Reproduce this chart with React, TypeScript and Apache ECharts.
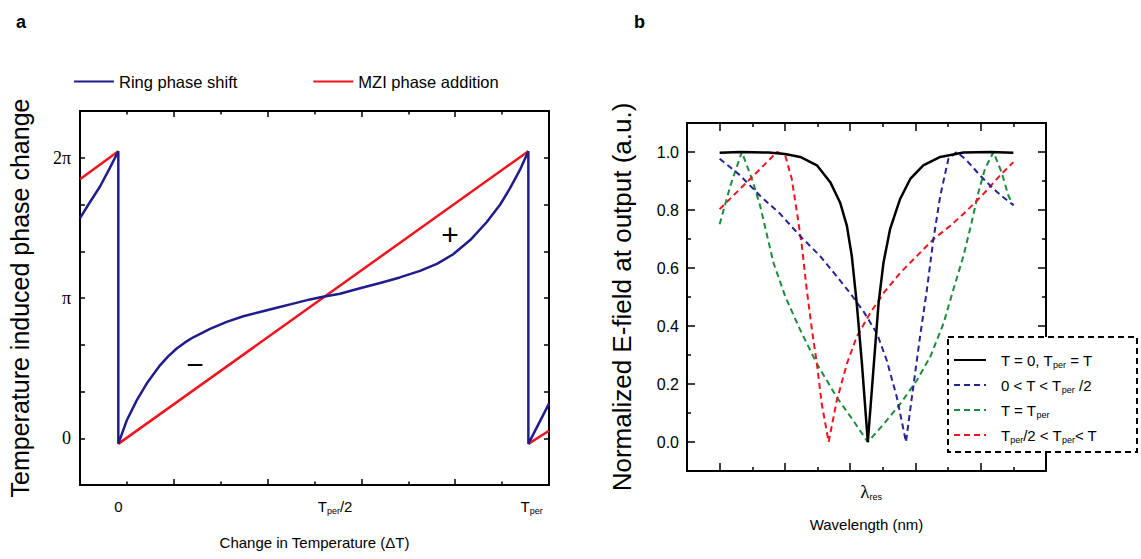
import React, { useEffect, useRef } from "react";
import * as echarts from "echarts";

// ---------- Panel a (x in tick units 0..10, y in units of pi/3) ----------
const ringPhaseShift: any[] = [
  [0, 4.71], [0.18, 5.0], [0.43, 5.39], [0.64, 5.79], [0.817, 6.14],
  [0.817, -0.12], [0.996, 0.38], [1.209, 0.81], [1.422, 1.17], [1.706, 1.56],
  [1.88, 1.75], [2.062, 1.92], [2.24, 2.05], [2.416, 2.16], [2.772, 2.34],
  [3.128, 2.49], [3.482, 2.61], [3.838, 2.7], [4.194, 2.79], [4.548, 2.88],
  [4.904, 2.97], [5.154, 3.02], [5.544, 3.09], [5.97, 3.21], [6.4, 3.32],
  [6.82, 3.44], [7.25, 3.58], [7.61, 3.73], [7.95, 3.93], [8.32, 4.24],
  [8.67, 4.62], [8.96, 5.0], [9.17, 5.35], [9.38, 5.74], [9.56, 6.14],
  [9.56, -0.12], [10, 0.74],
];
const mziPhaseAddition: any[] = [
  [0, 5.54], [0.817, 6.14], [0.817, "-"],
  [0.817, -0.12], [9.56, 6.14], [9.56, "-"],
  [9.56, -0.12], [10, 0.16],
];
const xLabelValuesA = [0.817, 5.44, 9.63];
const xLabelsA = ["{t|0}", "{t|T}{s|per}{t|/2}", "{t|T}{s|per}"];
const yLabelValuesA = [0, 3, 6];
const yLabelsA = ["0", "π", "2π"];

// ---------- Panel b (x in tick units 0..11, y normalized) ----------
const curveT0: number[][] = [
  [1, 0.997], [1.63, 1.0], [2.5, 0.998], [3.0, 0.993], [3.47, 0.983],
  [3.98, 0.954], [4.39, 0.896], [4.69, 0.826], [4.9, 0.745], [5.05, 0.641],
  [5.2, 0.479], [5.36, 0.27], [5.54, 0.0], [5.71, 0.247], [5.87, 0.479],
  [6.02, 0.618], [6.22, 0.733], [6.53, 0.838], [6.84, 0.907], [7.24, 0.954],
  [7.76, 0.983], [8.47, 0.998], [9.29, 1.0], [10, 0.997],
];
const curveLow: number[][] = [
  [1, 0.977], [1.63, 0.919], [2.24, 0.849], [2.86, 0.786], [3.47, 0.71],
  [4.08, 0.641], [4.59, 0.571], [5.0, 0.513], [5.41, 0.45], [5.82, 0.374],
  [6.12, 0.282], [6.43, 0.154], [6.71, 0.0], [6.89, 0.154], [7.14, 0.363],
  [7.35, 0.525], [7.55, 0.699], [7.76, 0.849], [8.01, 0.977], [8.27, 1.0],
  [8.57, 0.971], [8.98, 0.919], [9.39, 0.873], [9.69, 0.844], [10, 0.817],
];
const curvePer: number[][] = [
  [1, 0.751], [1.33, 0.884], [1.68, 1.0], [1.99, 0.907], [2.24, 0.815],
  [2.65, 0.618], [3.01, 0.502], [3.47, 0.386], [3.98, 0.27], [4.59, 0.154],
  [5.1, 0.073], [5.54, 0.0], [6.02, 0.061], [6.53, 0.131], [7.04, 0.212],
  [7.45, 0.293], [7.86, 0.409], [8.16, 0.525], [8.47, 0.641], [8.72, 0.757],
  [8.93, 0.861], [9.13, 0.942], [9.39, 1.0], [9.64, 0.93], [9.85, 0.849],
  [10, 0.815],
];
const curveHigh: number[][] = [
  [1, 0.803], [1.63, 0.873], [2.14, 0.93], [2.76, 1.0], [3.01, 0.988],
  [3.21, 0.907], [3.37, 0.791], [3.52, 0.676], [3.67, 0.525], [3.83, 0.386],
  [3.98, 0.27], [4.13, 0.131], [4.34, 0.0], [4.59, 0.143], [4.9, 0.27],
  [5.2, 0.363], [5.61, 0.444], [6.02, 0.513], [6.53, 0.583], [7.04, 0.641],
  [7.55, 0.699], [8.06, 0.745], [8.57, 0.797], [9.08, 0.855], [9.59, 0.919],
  [10, 0.965],
];
const legendNamesB = ["s0", "s1", "s2", "s3"];
const legendLabelsB = [
  "T = 0, T{s|per} = T",
  "0 < T < T{s|per} /2",
  "T = T{s|per}",
  "T{s|per}/2 < T{s|per}< T",
];
const yMajorB = [0, 0.2, 0.4, 0.6, 0.8, 1.0];
const yMinorB = [0.1, 0.3, 0.5, 0.7, 0.9];
const xMajorB = [1, 3, 5, 7, 9];
const xMinorB = [2, 4, 6, 8, 10];
const xLabelValuesB = [5.64];

const FONT = "'Liberation Sans', Arial, sans-serif";
const SERIF = "'Liberation Serif', 'Times New Roman', serif";
const BLUE_A = "#1f1c8c";
const RED = "#f0141e";

function pick(values: number[], labels: string[], v: number) {
  for (let i = 0; i < values.length; i++) {
    if (Math.abs(values[i] - v) < 1e-6) return labels[i];
  }
  return "";
}

const axisLine = { show: true, onZero: false, lineStyle: { color: "#000", width: 2 } };
const noAxisLine = { show: false, onZero: false };
const tick = (len: number, custom?: number[]) => ({
  show: true,
  inside: true,
  length: len,
  lineStyle: { color: "#000", width: 1.5 },
  ...(custom ? { customValues: custom } : {}),
});

export default function App() {
  const ref = useRef<HTMLDivElement>(null);
  useEffect(() => {
    if (!ref.current) return;
    const chart = echarts.init(ref.current, null, { renderer: "svg" });
    const gridA = 0;
    const gridB = 1;
    const subRich = {
      t: { fontSize: 15, fontFamily: FONT, color: "#000", lineHeight: 18 },
      s: { fontSize: 9, fontFamily: FONT, color: "#000", lineHeight: 9, verticalAlign: "bottom" },
    };
    const option: any = {
      animation: false,
      grid: [
        { left: 80, top: 111, width: 469, height: 374, containLabel: false, outerBoundsMode: "none" },
        { left: 687, top: 123, width: 359, height: 348, containLabel: false, outerBoundsMode: "none" },
      ],
      xAxis: [
        {
          type: "value", gridIndex: gridA, min: 0, max: 10, interval: 2, position: "bottom",
          axisLine, splitLine: { show: false },
          axisTick: tick(6),
          minorTick: { show: true, splitNumber: 2, length: 3.5, lineStyle: { color: "#000", width: 1.5 } },
          axisLabel: {
            customValues: xLabelValuesA,
            formatter: (v: number) => pick(xLabelValuesA, xLabelsA, v),
            margin: 12, rich: subRich,
          },
          name: "Change in Temperature (ΔT)", nameLocation: "middle", nameGap: 50,
          nameTextStyle: { fontFamily: FONT, fontSize: 15, color: "#000" },
        },
        {
          type: "value", gridIndex: gridA, min: 0, max: 10, interval: 2, position: "top",
          axisLine, splitLine: { show: false },
          axisTick: tick(6),
          minorTick: { show: true, splitNumber: 2, length: 3.5, lineStyle: { color: "#000", width: 1.5 } },
          axisLabel: { show: false },
        },
        {
          type: "value", gridIndex: gridB, min: 0, max: 11, position: "bottom",
          axisLine, splitLine: { show: false },
          axisTick: tick(8, xMajorB),
          axisLabel: {
            customValues: xLabelValuesB,
            formatter: () => "{l|λ}{s|res}",
            margin: 10,
            rich: {
              l: { fontSize: 19, fontFamily: SERIF, color: "#000", lineHeight: 20 },
              s: { fontSize: 9, fontFamily: FONT, color: "#000", lineHeight: 9, verticalAlign: "bottom" },
            },
          },
          name: "Wavelength (nm)", nameLocation: "middle", nameGap: 46,
          nameTextStyle: { fontFamily: FONT, fontSize: 15, color: "#000" },
        },
        {
          type: "value", gridIndex: gridB, min: 0, max: 11, position: "bottom",
          axisLine: noAxisLine, splitLine: { show: false },
          axisTick: tick(4, xMinorB), axisLabel: { show: false },
        },
        {
          type: "value", gridIndex: gridB, min: 0, max: 11, position: "top",
          axisLine, splitLine: { show: false },
          axisTick: tick(8, xMajorB), axisLabel: { show: false },
        },
        {
          type: "value", gridIndex: gridB, min: 0, max: 11, position: "top",
          axisLine: noAxisLine, splitLine: { show: false },
          axisTick: tick(4, xMinorB), axisLabel: { show: false },
        },
      ],
      yAxis: [
        {
          type: "value", gridIndex: gridA, min: -1, max: 7, interval: 1, position: "left",
          axisLine, splitLine: { show: false },
          axisTick: tick(5),
          axisLabel: {
            customValues: yLabelValuesA,
            formatter: (v: number) => pick(yLabelValuesA, yLabelsA, v),
            margin: 9, fontFamily: SERIF, fontSize: 18, color: "#000",
          },
          name: "Temperature induced phase change", nameLocation: "middle", nameGap: 48,
          nameTextStyle: { fontFamily: FONT, fontSize: 25, color: "#000" },
        },
        {
          type: "value", gridIndex: gridA, min: -1, max: 7, interval: 1, position: "right",
          axisLine, splitLine: { show: false },
          axisTick: tick(5), axisLabel: { show: false },
        },
        {
          type: "value", gridIndex: gridB, min: -0.1, max: 1.1, position: "left",
          axisLine, splitLine: { show: false },
          axisTick: tick(8, yMajorB),
          axisLabel: {
            customValues: yMajorB,
            formatter: (v: number) => v.toFixed(1),
            margin: 8, fontFamily: FONT, fontSize: 16, color: "#000",
          },
          name: "Normalized E-field at output (a.u.)", nameLocation: "middle", nameGap: 52,
          nameTextStyle: { fontFamily: FONT, fontSize: 26, color: "#000" },
        },
        {
          type: "value", gridIndex: gridB, min: -0.1, max: 1.1, position: "left",
          axisLine: noAxisLine, splitLine: { show: false },
          axisTick: tick(4, yMinorB), axisLabel: { show: false },
        },
        {
          type: "value", gridIndex: gridB, min: -0.1, max: 1.1, position: "right",
          axisLine, splitLine: { show: false },
          axisTick: tick(8, yMajorB), axisLabel: { show: false },
        },
        {
          type: "value", gridIndex: gridB, min: -0.1, max: 1.1, position: "right",
          axisLine: noAxisLine, splitLine: { show: false },
          axisTick: tick(4, yMinorB), axisLabel: { show: false },
        },
      ],
      legend: [
        {
          data: ["Ring phase shift", "MZI phase addition"],
          left: 73, top: 73, orient: "horizontal", padding: 0,
          itemWidth: 40, itemHeight: 16, itemGap: 75,
          selectedMode: false,
          itemStyle: { opacity: 0 },
          textStyle: { fontFamily: FONT, fontSize: 16.5, color: "#000" },
        },
        {
          data: legendNamesB,
          left: 953, top: 351, orient: "vertical", padding: 0,
          itemWidth: 32, itemHeight: 14, itemGap: 7,
          selectedMode: false, z: 60,
          itemStyle: { opacity: 0 },
          formatter: (n: string) => pick([0, 1, 2, 3], legendLabelsB, legendNamesB.indexOf(n)),
          textStyle: {
            fontFamily: FONT, fontSize: 15, color: "#000", lineHeight: 18,
            padding: [0, 0, 0, 10],
            rich: { s: { fontSize: 9, fontFamily: FONT, color: "#000", lineHeight: 9, verticalAlign: "bottom" } },
          },
        },
      ],
      graphic: [
        { type: "text", x: 16, y: 13, style: { text: "a", fontSize: 18, fontWeight: "bold", fontFamily: FONT, fill: "#000" } },
        { type: "text", x: 634, y: 13, style: { text: "b", fontSize: 18, fontWeight: "bold", fontFamily: FONT, fill: "#000" } },
        { type: "text", x: 195, y: 364, style: { text: "−", fontSize: 30, fontFamily: FONT, fill: "#000", align: "center", verticalAlign: "middle" } },
        { type: "text", x: 450, y: 234, style: { text: "+", fontSize: 30, fontFamily: FONT, fill: "#000", align: "center", verticalAlign: "middle" } },
        {
          type: "rect", z: 50,
          shape: { x: 948, y: 337, width: 189, height: 115 },
          style: { fill: "#fff", stroke: "#000", lineWidth: 2, lineDash: [6, 4] },
        },
      ],
      series: [
        {
          name: "Ring phase shift", type: "line", xAxisIndex: 0, yAxisIndex: 0,
          data: ringPhaseShift, showSymbol: false, symbol: "none", connectNulls: false,
          lineStyle: { color: BLUE_A, width: 2.5 }, itemStyle: { color: BLUE_A }, z: 3,
        },
        {
          name: "MZI phase addition", type: "line", xAxisIndex: 0, yAxisIndex: 0,
          data: mziPhaseAddition, showSymbol: false, symbol: "none", connectNulls: false,
          lineStyle: { color: RED, width: 2.5 }, itemStyle: { color: RED }, z: 2,
        },
        {
          name: "s0", type: "line", xAxisIndex: 2, yAxisIndex: 2, data: curveT0,
          showSymbol: false, symbol: "none",
          lineStyle: { color: "#000", width: 2.5 }, itemStyle: { color: "#000" }, z: 5,
        },
        {
          name: "s1", type: "line", xAxisIndex: 2, yAxisIndex: 2, data: curveLow,
          showSymbol: false, symbol: "none",
          lineStyle: { color: "#23239a", width: 2, type: [6, 4] }, itemStyle: { color: "#23239a" }, z: 4,
        },
        {
          name: "s2", type: "line", xAxisIndex: 2, yAxisIndex: 2, data: curvePer,
          showSymbol: false, symbol: "none",
          lineStyle: { color: "#1c8c3c", width: 2, type: [6, 4] }, itemStyle: { color: "#1c8c3c" }, z: 3,
        },
        {
          name: "s3", type: "line", xAxisIndex: 2, yAxisIndex: 2, data: curveHigh,
          showSymbol: false, symbol: "none",
          lineStyle: { color: RED, width: 2, type: [6, 4] }, itemStyle: { color: RED }, z: 3,
        },
      ],
    };
    chart.setOption(option);
    return () => chart.dispose();
  }, []);
  return (
    <div
      ref={ref}
      style={{ position: "fixed", left: 0, top: 0, width: 1141, height: 559, background: "#fff" }}
    />
  );
}
